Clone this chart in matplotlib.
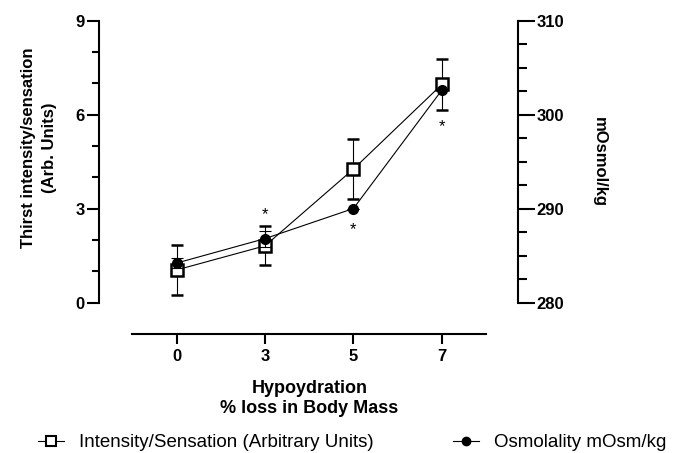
import matplotlib
matplotlib.use("Agg")
import matplotlib.pyplot as plt
from matplotlib.lines import Line2D
from matplotlib.ticker import MultipleLocator
import numpy as np

plt.rcParams['font.family'] = ['Liberation Sans', 'DejaVu Sans']

# hypohydration levels (% body mass loss)
levels = ['0', '3', '5', '7']

# thirst intensity/sensation, arbitrary units (mean, SD)
thirst = [1.04, 1.81, 4.26, 6.96]
thirst_sd = [0.79, 0.62, 0.96, 0.81]

# plasma osmolality, mOsm/kg (mean, SD)
osmo = [284.2, 286.8, 290.0, 302.6]
osmo_sd = [0.5, 0.85, 0.0, 0.0]

# significance markers: level index, offset from osmolality point (points)
sig_idx = [1, 2, 3]
sig_dy = [17, -15, -26]

x = np.arange(len(levels))

fig = plt.figure(figsize=(6.79, 4.53), dpi=100)
ax = fig.add_axes([0.1458, 0.3322, 0.6178, 0.6225])
ax2 = ax.twinx()

lw = 1.5
ax.errorbar(x, thirst, yerr=thirst_sd, color='black', lw=0.8, elinewidth=0.8,
            capsize=4, capthick=0.8, marker='s', ms=8, mfc='white', mec='black',
            mew=1.8, zorder=3)
ax2.errorbar(x, osmo, yerr=osmo_sd, color='black', lw=0.8, elinewidth=0.8,
             capsize=4, capthick=0.8, marker='o', ms=7, mfc='black', mec='black',
             zorder=3)

for i, dy in zip(sig_idx, sig_dy):
    ax2.annotate('*', (x[i], osmo[i]), xytext=(0, dy), textcoords='offset points',
                 ha='center', va='center', fontsize=12)

ax.set_xlim(-0.879, 3.867)
ax.set_ylim(0, 9)
ax2.set_ylim(280, 310)

ax.set_xticks(x)
ax.set_xticklabels(levels)
ax.yaxis.set_major_locator(MultipleLocator(3))
ax.yaxis.set_minor_locator(MultipleLocator(1))
ax2.yaxis.set_major_locator(MultipleLocator(10))
ax2.yaxis.set_minor_locator(MultipleLocator(2.5))

for a in (ax, ax2):
    a.spines['top'].set_visible(False)
    for s in a.spines.values():
        s.set_linewidth(lw)
ax.spines['right'].set_visible(False)
ax2.spines['left'].set_visible(False)
ax2.spines['bottom'].set_visible(False)
ax.spines['bottom'].set_position(('outward', 23))
ax.spines['bottom'].set_bounds(-0.5, 3.5)

ax.tick_params(axis='y', which='major', length=8.5, width=lw, pad=2)
ax.tick_params(axis='y', which='minor', length=5, width=lw)
ax.tick_params(axis='x', length=7, width=lw, pad=3.5)
ax2.tick_params(axis='y', which='major', length=12, width=lw, pad=1)
ax2.tick_params(axis='y', which='minor', length=6.5, width=lw)

for lab in ax.get_xticklabels() + ax.get_yticklabels() + ax2.get_yticklabels():
    lab.set_fontsize(12)
    lab.set_fontweight('bold')

ax.set_ylabel('Thirst intensity/sensation\n(Arb. Units)', fontsize=12,
              fontweight='bold', multialignment='center', linespacing=1.5)
ax.yaxis.set_label_coords(-0.10, 0.55)
ax2.set_ylabel('mOsmol/kg', fontsize=12, fontweight='bold', rotation=270,
               va='bottom')
ax2.yaxis.set_label_coords(1.175, 0.5)
ax.set_xlabel('Hypoydration\n% loss in Body Mass', fontsize=13,
              fontweight='bold', multialignment='center')
ax.xaxis.set_label_coords(0.502, -0.275)

h1 = Line2D([], [], color='black', lw=0.8, marker='s', ms=7, mfc='white',
            mec='black', mew=1.5)
h2 = Line2D([], [], color='black', lw=0.8, marker='o', ms=6, mfc='black')
leg_kw = dict(loc='center left', frameon=False, fontsize=13.5, borderpad=0,
              borderaxespad=0, handlelength=1.4, handletextpad=0.8)
fig.legend([h1], ['Intensity/Sensation (Arbitrary Units)'],
           bbox_to_anchor=(0.056, 0.0227), **leg_kw)
fig.legend([h2], ['Osmolality mOsm/kg'],
           bbox_to_anchor=(0.667, 0.0227), **leg_kw)

fig.savefig('out.png', dpi=100)
